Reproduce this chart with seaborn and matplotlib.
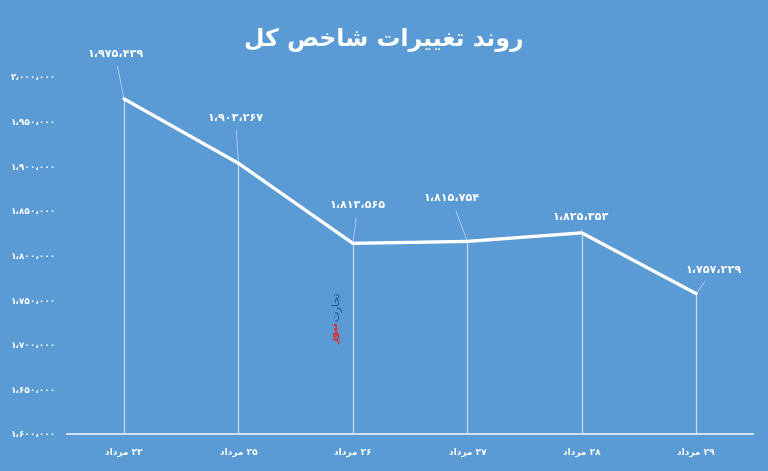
import pandas as pd
import seaborn as sns
import matplotlib.pyplot as plt

# داده‌ها
days = ["۲۲ مرداد", "۲۵ مرداد", "۲۶ مرداد", "۲۷ مرداد", "۲۸ مرداد", "۲۹ مرداد"]
index_values = [1975439, 1903267, 1813565, 1815754, 1825353, 1757229]
y_ticks = [1600000, 1650000, 1700000, 1750000, 1800000, 1850000, 1900000, 1950000, 2000000]
title = "روند تغییرات شاخص کل"
brand = ["تجارت", "نیوز"]

BG = "#5b9bd5"

# presentation forms: isolated, final, initial, medial (None = no joining to next)
FORMS = {
    "ا": ("\ufe8d", "\ufe8e", None, None),
    "ب": ("\ufe8f", "\ufe90", "\ufe91", "\ufe92"),
    "ت": ("\ufe95", "\ufe96", "\ufe97", "\ufe98"),
    "ج": ("\ufe9d", "\ufe9e", "\ufe9f", "\ufea0"),
    "خ": ("\ufea5", "\ufea6", "\ufea7", "\ufea8"),
    "د": ("\ufea9", "\ufeaa", None, None),
    "ر": ("\ufead", "\ufeae", None, None),
    "ز": ("\ufeaf", "\ufeb0", None, None),
    "ش": ("\ufeb5", "\ufeb6", "\ufeb7", "\ufeb8"),
    "ص": ("\ufeb9", "\ufeba", "\ufebb", "\ufebc"),
    "غ": ("\ufecd", "\ufece", "\ufecf", "\ufed0"),
    "ل": ("\ufedd", "\ufede", "\ufedf", "\ufee0"),
    "م": ("\ufee1", "\ufee2", "\ufee3", "\ufee4"),
    "ن": ("\ufee5", "\ufee6", "\ufee7", "\ufee8"),
    "و": ("\ufeed", "\ufeee", None, None),
    "ک": ("\ufb8e", "\ufb8f", "\ufb90", "\ufb91"),
    "ی": ("\ufbfc", "\ufbfd", "\ufbfe", "\ufbff"),
}


def shape_word(word):
    out = []
    for i, ch in enumerate(word):
        if ch not in FORMS:
            out.append(ch)
            continue
        prev = word[i - 1] if i > 0 else None
        nxt = word[i + 1] if i + 1 < len(word) else None
        join_prev = prev in FORMS and FORMS[prev][2] is not None
        join_next = nxt in FORMS and FORMS[ch][2] is not None
        iso, fin, ini, med = FORMS[ch]
        if join_prev and join_next:
            out.append(med)
        elif join_prev:
            out.append(fin)
        elif join_next:
            out.append(ini)
        else:
            out.append(iso)
    return "".join(out)


def rtl(text):
    words = text.split(" ")
    vis = []
    for w in reversed(words):
        if any(c in FORMS for c in w):
            vis.append(shape_word(w)[::-1])
        else:
            vis.append(w)
    return " ".join(vis)


def fa_num(n):
    digits = "۰۱۲۳۴۵۶۷۸۹"
    s = f"{n:,}"
    return "".join(digits[int(c)] if c.isdigit() else "،" for c in s)


df = pd.DataFrame({"day": [rtl(d) for d in days], "value": index_values})
pos = list(range(len(days)))

sns.set_theme(style="white")
plt.rcParams["font.family"] = ["DejaVu Sans"]

fig = plt.figure(figsize=(7.68, 4.71), dpi=100, facecolor=BG)
ax = fig.add_axes([0.087, 0.0786, 0.894, 0.758], facecolor=BG)

sns.lineplot(data=df, x="day", y="value", ax=ax, color="white", linewidth=2.4, sort=False)
ax.vlines(pos, y_ticks[0], index_values, color="white", linewidth=0.9, alpha=0.65)

# برچسب‌های داده
offsets = [(-9, 45), (-3, 45), (5, 38), (-16, 43), (-1, 16), (17, 24)]
for x, v, off in zip(pos, index_values, offsets):
    ax.annotate(fa_num(v), (x, v), xytext=off, textcoords="offset pixels",
                ha="center", va="center", color="white", fontsize=8, fontweight="bold",
                annotation_clip=False,
                arrowprops=dict(arrowstyle="-", color="white", lw=0.6, alpha=0.55,
                                shrinkA=3, shrinkB=0))

ax.set_xlim(-0.5, len(days) - 0.5)
ax.set_ylim(y_ticks[0], y_ticks[-1])
ax.set_yticks(y_ticks)
ax.set_yticklabels([fa_num(t) for t in y_ticks])
ax.set_xticks(pos)
ax.set_xticklabels(df["day"])
ax.tick_params(axis="both", colors="white", labelsize=6.5, length=0)
ax.tick_params(axis="x", pad=10)
ax.tick_params(axis="y", pad=8)
for lab in ax.get_xticklabels() + ax.get_yticklabels():
    lab.set_fontweight("bold")
ax.set_xlabel("")
ax.set_ylabel("")
for side in ["top", "left", "right"]:
    ax.spines[side].set_visible(False)
ax.spines["bottom"].set_color("white")
ax.spines["bottom"].set_alpha(0.85)
ax.spines["bottom"].set_linewidth(1.2)

fig.text(0.5, 1 - 40 / 471, rtl(title), ha="center", va="center",
         color="white", fontsize=17, fontweight="bold")

# واترمارک
fig.text(336 / 768, 1 - 321 / 471, rtl(brand[0]), rotation=90, ha="center", va="bottom",
         color="#1f4e9a", fontsize=8)
fig.text(336 / 768, 1 - 322 / 471, rtl(brand[1]), rotation=90, ha="center", va="top",
         color="#e3262b", fontsize=8, fontweight="bold")

fig.savefig("out.png", dpi=100, facecolor=BG)
